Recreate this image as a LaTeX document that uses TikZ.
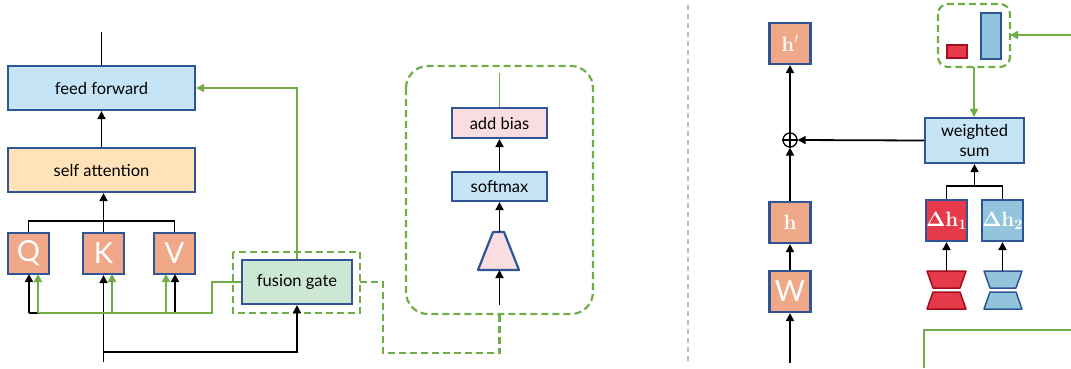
\documentclass[tikz,border=0pt]{standalone}
\usepackage[no-math]{fontspec}
\setmainfont{Lato}
\usetikzlibrary{arrows.meta,calc}

\definecolor{bordblue}{HTML}{2F5597}
\definecolor{ffblue}{HTML}{C5E4F6}
\definecolor{saorange}{HTML}{FFE2B8}
\definecolor{salmon}{HTML}{F0A988}
\definecolor{fgreen}{HTML}{CCE8D4}
\definecolor{pinkfill}{HTML}{FADDE1}
\definecolor{deltared}{HTML}{E63A4A}
\definecolor{darkred}{HTML}{A50E1E}
\definecolor{deltablue}{HTML}{92C5DB}
\definecolor{gline}{HTML}{70AD47}
\definecolor{sepgrey}{HTML}{BBBBBB}

\tikzset{
  box/.style={draw=bordblue, line width=2.2pt, inner sep=0pt, font=\fontsize{16.5}{19}\selectfont},
  sqbox/.style={box, fill=salmon, minimum width=41pt, minimum height=41pt, text=white},
  conn/.style={line width=1.8pt, -{Triangle[length=8pt,width=8pt]}},
  plain/.style={line width=1.8pt},
  gconn/.style={draw=gline, line width=1.8pt, -{Triangle[length=8pt,width=8pt]}},
  gplain/.style={draw=gline, line width=1.8pt},
  gdash/.style={draw=gline, line width=2.2pt, dash pattern=on 7pt off 4pt},
  bigletter/.style={font=\fontsize{29}{29}\selectfont},
  mathlbl/.style={font=\fontsize{21}{21}\selectfont},
}

\begin{document}
\begin{tikzpicture}[x=1pt, y=-1pt]
\useasboundingbox (0,0) rectangle (1071,368);

% ---------- left: transformer block with fusion gate ----------
\node[box, fill=ffblue, minimum width=187pt, minimum height=44pt] (ff) at (101.5,88) {feed forward};
\node[box, fill=saorange, minimum width=187pt, minimum height=44pt] (sa) at (101.5,170) {self attention};
\node[sqbox, bigletter] (Q) at (28.5,253.5) {Q};
\node[sqbox, bigletter] (K) at (103.5,253.5) {K};
\node[sqbox, bigletter] (V) at (174.5,253.5) {V};
\node[box, fill=fgreen, minimum width=110pt, minimum height=44pt] (fg) at (297,282) {fusion gate};
\draw[gdash] (233,252) rectangle (360,313);

\coordinate (top) at (101.5,32);
\coordinate (inK) at (103.5,362);
\draw[plain] (ff.north) -- (top);
\draw[conn] (sa.north) -- (ff.south);
\draw[conn] (K.north) -- (K.north |- sa.south);
\draw[plain] (Q.north) |- (103.5,221) -| (V.north);

% black inputs to Q, K, V and the gate
\draw[conn] (inK) -- (K.south);
\draw[plain] (29,313) -- (175,313);
\draw[conn] (29,313) -- (29,274);
\draw[conn] (175,313) -- (175,274);
\draw[conn] (103.5,352) -| (fg.south);

% green gate signals
\draw[gplain] (38,313) -- (212,313) |- (fg.west);
\draw[gconn] (38,313) -- (38,274);
\draw[gconn] (112,313) -- (112,274);
\draw[gconn] (166,313) -- (166,274);
\draw[gconn] (fg.north) |- (ff.east);

% ---------- fusion gate detail ----------
\draw[gdash, rounded corners=22pt] (406,66) rectangle (593,314);
\draw[gdash] (360,282) -- (383,282) -- (383,353) -- (499.5,353) -- (499.5,314);

\node[box, fill=pinkfill, minimum width=95pt, minimum height=30pt] (ab) at (499.5,123) {add bias};
\node[box, fill=ffblue, minimum width=95pt, minimum height=29pt] (sm) at (499.5,186.5) {softmax};
\draw[draw=bordblue, fill=pinkfill, line width=2.2pt, line join=round] (478,270) -- (519,270) -- (504,232) -- (493,232) -- cycle;
\coordinate (trapT) at (499.5,232);
\coordinate (trapB) at (499.5,270);
\coordinate (gin) at (499.5,305);
\coordinate (gout) at (499.5,73);
\draw[conn] (gin) -- (trapB);
\draw[conn] (trapT) -- (sm.south);
\draw[conn] (sm.north) -- (ab.south);
\draw[gplain] (ab.north) -- (gout);

% ---------- separator ----------
\draw[draw=sepgrey, line width=1.2pt, dash pattern=on 5pt off 4pt] (688,5) -- (688,364);

% ---------- right: adapter mixture ----------
\node[sqbox, mathlbl] (hp) at (790,43.5) {$\mathbf{h}'$};
\node[draw, circle, line width=1.3pt, minimum size=14pt, inner sep=0pt] (plus) at (790,140) {};
\draw[line width=1.3pt] (plus.north) -- (plus.south) (plus.west) -- (plus.east);
\node[sqbox, mathlbl] (h) at (790,222.5) {$\mathbf{h}$};
\node[sqbox, bigletter] (W) at (790,291.5) {W};
\coordinate (inW) at (790,363);
\draw[conn] (inW) -- (W.south);
\draw[conn] (W.north) -- (h.south);
\draw[conn] (h.north) -- (plus.south);
\draw[conn] (plus.north) -- (hp.south);

\node[box, fill=ffblue, minimum width=99pt, minimum height=45pt, align=center,
      font=\fontsize{16.5}{20}\selectfont] (ws) at (974.5,140.5) {weighted\\sum};
\draw[conn] (ws.west) -- (plus.east);

\node[box, fill=deltared, minimum width=41pt, minimum height=41pt, text=white, mathlbl] (d1) at (946.5,220.5) {$\mathbf{\Delta h}_{\mathbf{1}}$};
\node[box, fill=deltablue, minimum width=41pt, minimum height=41pt, text=white, mathlbl] (d2) at (1002.5,220.5) {$\mathbf{\Delta h}_{\mathbf{2}}$};
\draw[plain] (d1.north) |- (974.5,186) -| (d2.north);
\draw[conn] (974.5,186) -- (ws.south);

% hourglass adapters
\draw[draw=darkred, fill=deltared, line width=1.5pt, line join=round]
  (927,271) -- (966,271) -- (960,288) -- (933,288) -- cycle
  (933,292) -- (960,292) -- (966,309) -- (927,309) -- cycle;
\draw[draw=bordblue, fill=deltablue, line width=1.5pt, line join=round]
  (984,271) -- (1022,271) -- (1016,288) -- (990,288) -- cycle
  (990,292) -- (1016,292) -- (1022,309) -- (984,309) -- cycle;
\coordinate (a1) at (946.5,271);
\coordinate (a2) at (1002.5,271);
\draw[conn] (a1) -- (d1.south);
\draw[conn] (a2) -- (d2.south);

% gate weights
\draw[gdash, rounded corners=10pt] (938,4) rectangle (1010,67);
\draw[draw=darkred, fill=deltared, line width=1.5pt] (947,45) rectangle (967,58);
\draw[draw=bordblue, fill=deltablue, line width=1.5pt] (981,13) rectangle (1001,59);
\coordinate (wIn) at (1071,35);
\coordinate (wBox) at (1010,35);
\coordinate (wOut) at (974,67);
\draw[gconn] (wIn) -- (wBox);
\draw[gconn] (wOut) -- (wOut |- ws.north);

\coordinate (gA) at (924,368);
\coordinate (gB) at (1071,330);
\draw[gplain] (gA) |- (gB);
\end{tikzpicture}
\end{document}
